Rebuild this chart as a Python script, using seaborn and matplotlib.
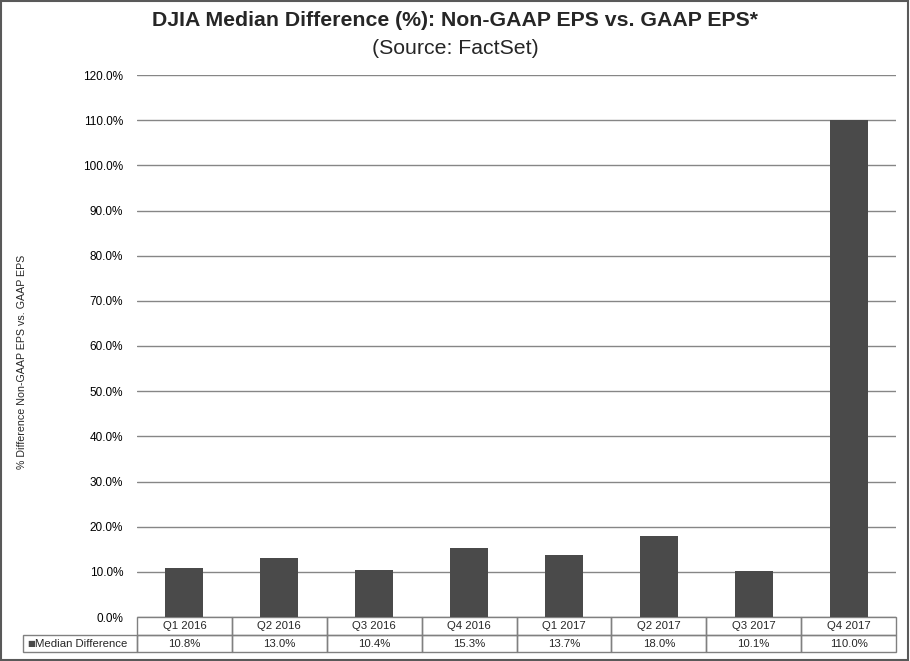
import pandas as pd
import matplotlib
matplotlib.use('Agg')
import seaborn as sns
from matplotlib import pyplot as plt
from matplotlib.patches import Rectangle
from matplotlib.ticker import FuncFormatter

quarters = ['Q1 2016', 'Q2 2016', 'Q3 2016', 'Q4 2016',
            'Q1 2017', 'Q2 2017', 'Q3 2017', 'Q4 2017']
median_diff = [10.8, 13.0, 10.4, 15.3, 13.7, 18.0, 10.1, 110.0]
series_name = 'Median Difference'

bar_color = '#4a4a4a'
grid_color = '#868686'
font = ['Liberation Sans', 'DejaVu Sans']

sns.set_style("white")
plt.rcParams['font.family'] = font

pd_data = pd.DataFrame({'Quarter': quarters, 'Value': median_diff})

fig = plt.figure(figsize=(9.1, 6.61), dpi=100)
axe = fig.add_axes([137/910, 1-617/661, 759/910, 542/661])
sns.barplot(data=pd_data, x='Quarter', y='Value', color=bar_color,
            width=0.4, saturation=1, linewidth=0, ax=axe, zorder=3)

axe.set_ylim(0, 120)
axe.set_yticks(range(0, 121, 10))
axe.yaxis.set_major_formatter(FuncFormatter(lambda v, p: '{:.1f}%'.format(v)))
axe.tick_params(axis='y', labelsize=8.5, length=0, pad=10, labelcolor='black')
axe.set_xticks([])
axe.set_xlabel('')
axe.set_ylabel('')
axe.set_xlim(-0.5, len(quarters)-0.5)
axe.yaxis.grid(True, color=grid_color, linewidth=1)
axe.set_axisbelow(True)
for s in axe.spines.values():
    s.set_visible(False)

# data table below the plot
trans = axe.get_xaxis_transform()
edge = '#808080'
h1, h2 = 0.034, 0.031
lw = 1
for i, (q, v) in enumerate(zip(quarters, median_diff)):
    axe.add_patch(Rectangle((i-0.5, -h1), 1, h1, transform=trans, fill=False,
                            edgecolor=edge, linewidth=lw, clip_on=False))
    axe.add_patch(Rectangle((i-0.5, -h1-h2), 1, h2, transform=trans, fill=False,
                            edgecolor=edge, linewidth=lw, clip_on=False))
    axe.text(i, -h1/2, q, transform=trans, ha='center', va='center', fontsize=8.2)
    axe.text(i, -h1-h2/2, '{:.1f}%'.format(v), transform=trans, ha='center',
             va='center', fontsize=8.2)
lab_w = 114/759*len(quarters)
axe.add_patch(Rectangle((-0.5-lab_w, -h1-h2), lab_w, h2, transform=trans, fill=False,
                        edgecolor=edge, linewidth=lw, clip_on=False))
axe.text(-0.5-lab_w+0.045, -h1-h2/2, '\u25a0', transform=trans, ha='left', va='center',
         fontsize=6, color=bar_color, family=['DejaVu Sans'])
axe.text(-0.5-lab_w+0.13, -h1-h2/2, series_name, transform=trans, ha='left',
         va='center', fontsize=8.2)

fig.text(22/910, 1-362/661, '% Difference Non-GAAP EPS vs. GAAP EPS', rotation=90,
         ha='center', va='center', fontsize=7.7)
fig.text(0.5, 1-21/661, 'DJIA Median Difference (%): Non-GAAP EPS vs. GAAP EPS*',
         ha='center', va='center', fontsize=15.3, fontweight='bold')
fig.text(0.5, 1-48/661, '(Source: FactSet)', ha='center', va='center', fontsize=15.3)

fig.patches.append(Rectangle((0.001, 0.002), 0.997, 0.996, transform=fig.transFigure,
                             fill=False, edgecolor='#595959', linewidth=1.5))

plt.savefig('out.png', dpi=100)
